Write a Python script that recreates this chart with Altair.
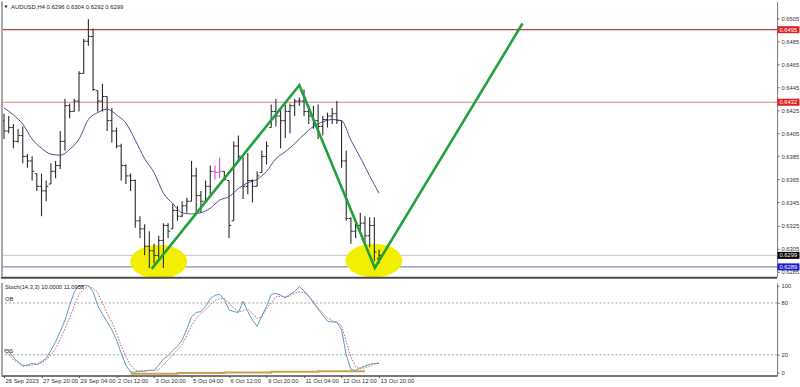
import altair as alt
import pandas as pd

# ---------------- data ----------------
bar_idx = list(range(81))
open_ = [0.6416, 0.6407, 0.6410, 0.6398, 0.6403, 0.6385, 0.6381, 0.6370, 0.6359, 0.6355,
         0.6361, 0.6372, 0.6377, 0.6398, 0.6429, 0.6424, 0.6433, 0.6457, 0.6485, 0.6489,
         0.6442, 0.6433, 0.6437, 0.6416, 0.6407, 0.6394, 0.6377, 0.6368, 0.6364, 0.6329,
         0.6322, 0.6307, 0.6303, 0.6299, 0.6312, 0.6325, 0.6322, 0.6338, 0.6333, 0.6342,
         0.6346, 0.6368, 0.6351, 0.6346, 0.6359, 0.6372, 0.6371, 0.6372, 0.6364, 0.6329,
         0.6394, 0.6384, 0.6359, 0.6364, 0.6359, 0.6371, 0.6385, 0.6410, 0.6424, 0.6420,
         0.6416, 0.6424, 0.6429, 0.6433, 0.6433, 0.6424, 0.6420, 0.6416, 0.6411, 0.6417,
         0.6420, 0.6422, 0.6416, 0.6381, 0.6331, 0.6320, 0.6325, 0.6327, 0.6316, 0.6325,
         0.6296]
high = [0.6422, 0.6420, 0.6413, 0.6409, 0.6411, 0.6387, 0.6385, 0.6370, 0.6370, 0.6364,
        0.6379, 0.6381, 0.6407, 0.6435, 0.6431, 0.6435, 0.6459, 0.6487, 0.6504, 0.6496,
        0.6442, 0.6448, 0.6437, 0.6427, 0.6410, 0.6396, 0.6378, 0.6370, 0.6365, 0.6333,
        0.6326, 0.6320, 0.6309, 0.6316, 0.6327, 0.6327, 0.6344, 0.6342, 0.6346, 0.6349,
        0.6381, 0.6375, 0.6355, 0.6364, 0.6377, 0.6377, 0.6384, 0.6372, 0.6364, 0.6398,
        0.6403, 0.6384, 0.6388, 0.6365, 0.6372, 0.6390, 0.6398, 0.6430, 0.6435, 0.6427,
        0.6430, 0.6431, 0.6435, 0.6436, 0.6443, 0.6430, 0.6429, 0.6430, 0.6420, 0.6423,
        0.6427, 0.6433, 0.6416, 0.6390, 0.6332, 0.6329, 0.6336, 0.6333, 0.6332, 0.6332,
        0.6304]
low = [0.6400, 0.6405, 0.6392, 0.6397, 0.6379, 0.6375, 0.6364, 0.6355, 0.6333, 0.6346,
       0.6361, 0.6366, 0.6374, 0.6390, 0.6418, 0.6424, 0.6424, 0.6457, 0.6481, 0.6442,
       0.6424, 0.6424, 0.6407, 0.6397, 0.6392, 0.6364, 0.6361, 0.6355, 0.6323, 0.6314,
       0.6299, 0.6288, 0.6292, 0.6297, 0.6288, 0.6314, 0.6322, 0.6329, 0.6332, 0.6336,
       0.6346, 0.6335, 0.6336, 0.6346, 0.6352, 0.6365, 0.6366, 0.6364, 0.6314, 0.6329,
       0.6381, 0.6348, 0.6352, 0.6345, 0.6359, 0.6371, 0.6378, 0.6410, 0.6411, 0.6392,
       0.6401, 0.6405, 0.6420, 0.6429, 0.6420, 0.6413, 0.6409, 0.6400, 0.6403, 0.6410,
       0.6413, 0.6413, 0.6375, 0.6329, 0.6309, 0.6314, 0.6318, 0.6309, 0.6306, 0.6294,
       0.6292]
close = [0.6407, 0.6410, 0.6398, 0.6403, 0.6385, 0.6381, 0.6372, 0.6359, 0.6355, 0.6359,
         0.6372, 0.6377, 0.6398, 0.6429, 0.6424, 0.6433, 0.6457, 0.6485, 0.6489, 0.6443,
         0.6433, 0.6437, 0.6416, 0.6407, 0.6394, 0.6377, 0.6368, 0.6364, 0.6329, 0.6322,
         0.6307, 0.6303, 0.6299, 0.6312, 0.6325, 0.6320, 0.6338, 0.6333, 0.6342, 0.6346,
         0.6368, 0.6351, 0.6346, 0.6359, 0.6372, 0.6371, 0.6372, 0.6365, 0.6325, 0.6394,
         0.6385, 0.6359, 0.6364, 0.6359, 0.6368, 0.6385, 0.6394, 0.6424, 0.6420, 0.6416,
         0.6424, 0.6429, 0.6433, 0.6433, 0.6424, 0.6420, 0.6416, 0.6411, 0.6417, 0.6420,
         0.6422, 0.6416, 0.6381, 0.6331, 0.6320, 0.6325, 0.6327, 0.6316, 0.6325, 0.6302,
         0.6299]

ma_idx = list(range(0, 81, 2))
ma_val = [0.6427, 0.6421, 0.6413, 0.6400, 0.6392, 0.6387, 0.6386, 0.6391, 0.6400, 0.6417,
          0.6423, 0.6426, 0.6421, 0.6414, 0.6399, 0.6383, 0.6371, 0.6353, 0.6344, 0.6336,
          0.6335, 0.6336, 0.6340, 0.6347, 0.6350, 0.6357, 0.6362, 0.6365, 0.6372, 0.6383,
          0.6389, 0.6396, 0.6404, 0.6411, 0.6415, 0.6417, 0.6416, 0.6399, 0.6384, 0.6368,
          0.6353]

stoch_k = [26, 25, 17, 12, 7, 8, 10, 9, 12, 16,
           25, 35, 47, 60, 77, 93, 100, 100, 100, 93,
           77, 67, 58, 49, 37, 22, 8, 0, 0, 1,
           1, 2, 2, 8, 15, 19, 25, 30, 37, 50,
           64, 69, 70, 76, 85, 89, 90, 84, 72, 70,
           69, 82, 70, 60, 53, 65, 76, 90, 91, 89,
           86, 90, 93, 99, 94, 88, 80, 73, 66, 59,
           58, 58, 49, 20, 3, 2, 5, 7, 9, 10,
           10.0]
stoch_d = [25, 20, 14, 11, 8, 7, 8, 9, 11, 14,
           20, 27, 38, 50, 63, 77, 90, 96, 99, 97,
           92, 80, 68, 58, 45, 30, 18, 8, 2, 1,
           2, 2, 2, 3, 8, 14, 20, 26, 32, 42,
           54, 62, 68, 72, 78, 83, 85, 85, 80, 74,
           70, 71, 73, 68, 62, 64, 73, 80, 87, 88,
           87, 88, 91, 93, 92, 88, 82, 74, 68, 63,
           60, 57, 54, 35, 18, 6, 4, 5, 7, 9,
           11.0958]

gold_idx = [27, 37, 47, 57, 67, 77]
gold_val = [-2.0, -1.1, -0.4, 0.4, 1.1, 1.1]

pattern_idx = [31.5, 63.0, 79.1, 110.6]
pattern_price = [0.62873, 0.64467, 0.62882, 0.65004]

zone_idx = [33.0, 78.9]
zone_price = [0.62935, 0.62945]

level_price = [0.6495, 0.6432]
level_color = ["#a84848", "#c88a8a"]
bid_price = 0.6299
low_line_price = 0.6289

price_ticks = [0.6285, 0.6305, 0.6325, 0.6345, 0.6365, 0.6385, 0.6405,
               0.6425, 0.6445, 0.6465, 0.6485, 0.6505]
stoch_ticks = [0, 20, 80, 100]
time_tick_idx = [0, 8, 16, 24, 32, 40, 48, 56, 64, 72, 80]
time_tick_labels = ["26 Sep 2023", "27 Sep 20:00", "29 Sep 04:00", "2 Oct 12:00",
                    "3 Oct 20:00", "5 Oct 04:00", "6 Oct 12:00", "9 Oct 20:00",
                    "11 Oct 04:00", "12 Oct 12:00", "13 Oct 20:00"]

# ---------------- layout ----------------
W = 778
H_MAIN = 276
H_STOCH = 93
FONT = "Liberation Sans"

xscale = alt.Scale(domain=[-0.64, 164.9], nice=False, zero=False)
yscale = alt.Scale(domain=[0.62804, 0.65195], nice=False, zero=False)
sscale = alt.Scale(domain=[-4.0, 103.4], nice=False, zero=False)

bars = pd.DataFrame({"idx": bar_idx, "open": open_, "high": high, "low": low, "close": close})
ma = pd.DataFrame({"idx": ma_idx, "ma": ma_val})
pattern = pd.DataFrame({"idx": pattern_idx, "price": pattern_price})
zones = pd.DataFrame({"idx": zone_idx, "price": zone_price})
levels = pd.DataFrame({"price": level_price, "col": level_color})
tags = pd.DataFrame({
    "price": level_price + [bid_price, low_line_price],
    "label": [f"{p:.4f}" for p in level_price + [bid_price, low_line_price]],
    "col": ["#e02020", "#e02020", "#000000", "#1a1ad0"],
})
stoch = pd.DataFrame({"idx": bar_idx, "k": stoch_k, "d": stoch_d})
gold = pd.DataFrame({"idx": gold_idx, "v": gold_val})

main_axis = alt.Axis(orient="right", values=price_ticks, format=".4f", title=None, grid=False,
                     labelFontSize=5.8, labelFont=FONT, labelColor="#333333", tickSize=2,
                     tickColor="#666666", domainColor="#7a7a7a", labelPadding=2)
sx_axis = alt.Axis(values=time_tick_idx,
                   labelExpr="[" + ",".join(f"'{t}'" for t in time_tick_labels) + "][datum.value / 8]",
                   labelAlign="left", labelFontSize=5.9, labelFont=FONT, labelColor="#303030",
                   tickSize=2, tickColor="#555555", domainColor="#4a4a4a", domainWidth=1.5,
                   grid=False, title=None, labelPadding=0, labelOffset=1, labelOverlap=False,
                   labelFlush=False)
sy_axis = alt.Axis(orient="right", values=stoch_ticks, format="d", title=None, grid=False,
                   labelFontSize=5.8, labelFont=FONT, labelColor="#333333", tickSize=2,
                   tickColor="#666666", domainColor="#7a7a7a", labelPadding=2)


def MX(field="idx:Q"):
    return alt.X(field, scale=xscale, axis=None)


def MY(field):
    return alt.Y(field, scale=yscale, axis=main_axis)


def SX(field="idx:Q"):
    return alt.X(field, scale=xscale, axis=sx_axis)


def SY(field):
    return alt.Y(field, scale=sscale, axis=sy_axis)


ell_path = "M -1 0 A 1 0.59 0 1 0 1 0 A 1 0.59 0 1 0 -1 0 Z"
tag_path = "M -1 -0.32 L 1 -0.32 L 1 0.32 L -1 0.32 Z"

lvl = alt.Chart(levels).mark_rule(strokeWidth=1.2).encode(
    y=MY("price:Q"), color=alt.Color("col:N", scale=None))
bidline = alt.Chart(pd.DataFrame({"price": [bid_price]})).mark_rule(color="#c8c8c8", strokeWidth=1).encode(
    y=MY("price:Q"))
lowline = alt.Chart(pd.DataFrame({"price": [low_line_price]})).mark_rule(color="#6c6ca8", strokeWidth=1).encode(
    y=MY("price:Q"))

ell = alt.Chart(zones).mark_point(shape=ell_path, size=57 * 57, filled=True, opacity=1,
                                  color="#f2f000", strokeWidth=0).encode(
    x=MX(), y=MY("price:Q"))

bar_color = alt.condition("datum.idx == 45 || datum.idx == 46", alt.value("#d24cd2"), alt.value("#2a2a2a"))
hl = alt.Chart(bars).mark_rule(strokeWidth=1.1).encode(
    x=MX(), y=MY("low:Q"), y2="high:Q", color=bar_color)
otick = alt.Chart(bars).transform_calculate(xo="datum.idx - 0.45").mark_rule(strokeWidth=1).encode(
    x=MX("xo:Q"), x2="idx:Q", y=MY("open:Q"), color=bar_color)
ctick = alt.Chart(bars).transform_calculate(xc="datum.idx + 0.45").mark_rule(strokeWidth=1).encode(
    x=MX("idx:Q"), x2="xc:Q", y=MY("close:Q"), color=bar_color)

ma_line = alt.Chart(ma).mark_line(color="#3a3a88", strokeWidth=0.9, interpolate="monotone").encode(
    x=MX(), y=MY("ma:Q"))

pat = alt.Chart(pattern).mark_line(color="#22a03c", strokeWidth=2.6).encode(
    x=MX(), y=MY("price:Q"), order="idx:Q")

tag_box = alt.Chart(tags).mark_point(shape=tag_path, size=22 * 22, filled=True, opacity=1, strokeWidth=0).encode(
    x=alt.value(789.5), y=MY("price:Q"), color=alt.Color("col:N", scale=None))
tag_txt = alt.Chart(tags).mark_text(align="left", baseline="middle", fontSize=5.8, font=FONT,
                                    color="white").encode(
    x=alt.value(780.5), y=MY("price:Q"), text="label:N")

title_txt = f"AUDUSD,H4  {open_[-1]:.4f} {high[-1]:.4f} {low[-1]:.4f} {close[-1]:.4f}"
title = alt.Chart(pd.DataFrame({"t": [title_txt]})).mark_text(
    align="left", baseline="middle", fontSize=5.9, font=FONT, color="#202020").encode(
    x=alt.value(10), y=alt.value(5.5), text="t:N")
tri = alt.Chart(pd.DataFrame({"t": [0]})).mark_point(shape="triangle-down", size=10, filled=True,
                                                    color="#202020", opacity=1).encode(
    x=alt.value(5), y=alt.value(5.5))

sep = alt.Chart(pd.DataFrame({"t": [0]})).mark_rule(color="#4a4a4a", strokeWidth=2).encode(
    x=alt.value(0), x2=alt.value(W), y=alt.value(H_MAIN + 1))
left_border = alt.Chart(pd.DataFrame({"t": [0]})).mark_rule(color="#a8a8a8", strokeWidth=2).encode(
    x=alt.value(1), y=alt.value(0), y2=alt.value(H_MAIN))

main = alt.layer(lvl, bidline, lowline, ell, hl, otick, ctick, ma_line, pat,
                 tag_box, tag_txt, title, tri, sep, left_border).properties(width=W, height=H_MAIN)

# ---------------- stochastic panel ----------------
obos = alt.Chart(pd.DataFrame({"v": [80, 20]})).mark_rule(color="#8a8a8a", strokeDash=[2, 2], strokeWidth=0.8).encode(
    y=SY("v:Q"))
gold_line = alt.Chart(gold).mark_line(color="#c9a24e", strokeWidth=2, interpolate="step-after").encode(
    x=SX(), y=SY("v:Q"))
d_line = alt.Chart(stoch).mark_line(color="#c04848", strokeWidth=0.9, strokeDash=[1.5, 1.5]).encode(
    x=SX(), y=SY("d:Q"))
k_line = alt.Chart(stoch).mark_line(color="#5a9cc0", strokeWidth=1).encode(
    x=SX(), y=SY("k:Q"))
stitle = alt.Chart(pd.DataFrame({"t": [f"Stoch(14,3,3) {stoch_k[-1]:.4f} {stoch_d[-1]:.4f}"]})).mark_text(
    align="left", baseline="middle", fontSize=5.8, font=FONT, color="#202020").encode(
    x=alt.value(4), y=alt.value(4.5), text="t:N")
oblab = alt.Chart(pd.DataFrame({"v": [80, 20], "t": ["OB", "OS"]})).mark_text(
    align="left", baseline="bottom", fontSize=5.8, font=FONT, color="#303030", dy=-1).encode(
    x=alt.value(4), y=SY("v:Q"), text="t:N")
left_border2 = alt.Chart(pd.DataFrame({"t": [0]})).mark_rule(color="#a8a8a8", strokeWidth=2).encode(
    x=alt.value(1), y=alt.value(0), y2=alt.value(H_STOCH))

stoch_chart = alt.layer(obos, gold_line, d_line, k_line, stitle, oblab, left_border2).properties(
    width=W, height=H_STOCH)

chart = alt.vconcat(main, stoch_chart, spacing=3).properties(
    padding={"left": 0, "top": 0, "right": 0, "bottom": 0},
    background="white",
).configure_view(stroke=None)

chart.save("out.html", embed_options={"renderer": "svg", "actions": False})
